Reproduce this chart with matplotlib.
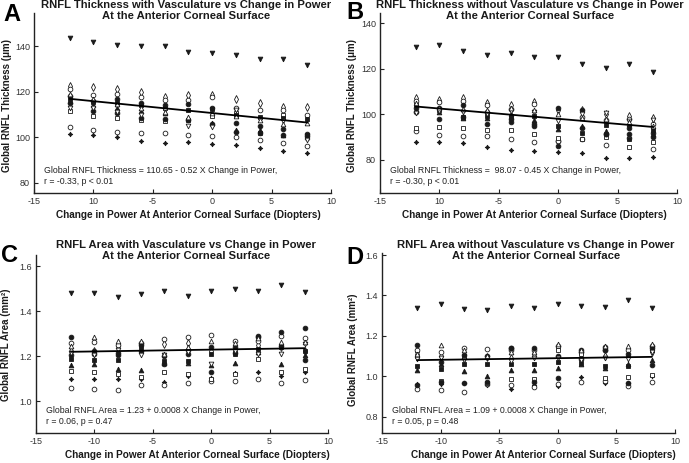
import matplotlib
matplotlib.use("Agg")
import matplotlib.pyplot as plt

plt.rcParams['font.family'] = ['Liberation Sans', 'DejaVu Sans']

power = [-12, -10, -8, -6, -4, -2, 0, 2, 4, 6, 8]

# one marker style per subject: (marker, filled)
markers = [('v', True), ((4, 1, 0), True), ('o', False), ('d', False),
           ('o', False), ('s', False), ('o', True), ('s', True),
           ('^', True), ('o', True), ('v', False), ('^', False)]

thick_vasc = [
    [143.5, 142, 140.5, 140, 140, 137.5, 137, 136, 134.5, 134.5, 131.5],
    [101.5, 101, 100, 98.5, 97.5, 98, 97, 96.5, 95.5, 94, 93],
    [104.5, 103, 102.5, 102, 102, 101, 100.5, 100, 99, 97.5, 96],
    [122.5, 122, 121, 120, 117.5, 118.5, 118.5, 117, 115, 113.5, 113.5],
    [121, 118.5, 119, 117.5, 116.5, 116.5, 117.5, 113, 112, 112, 110],
    [111.5, 109.5, 108.5, 107.5, 107, 107.5, 109.5, 110.5, 102, 110, 101],
    [118, 116, 117, 115, 114, 114.5, 113, 106.5, 105, 103.5, 101.5],
    [117, 115.5, 115, 114, 113, 112, 112.5, 110, 109, 108.5, 108],
    [116, 114, 113, 111.5, 110.5, 108.5, 106.5, 103, 103, 101, 100],
    [115, 111.5, 110.5, 108.5, 108, 107.5, 106, 102.5, 102, 101, 100.5],
    [113, 113, 111, 110, 112, 105, 104.5, 112, 107.5, 107, 99],
    [119, 117, 114.5, 113, 111, 109, 110.5, 109.5, 107.5, 106, 106.5],
]

thick_novasc = [
    [129.5, 130.5, 128, 126, 127, 125, 125, 122, 120.5, 122, 118.5],
    [88, 88, 87.5, 85.5, 84.5, 84, 83.5, 83, 81, 81, 81.5],
    [92.5, 91, 90.5, 90.5, 89, 88, 88.5, 89, 86.5, 89.5, 85],
    [107, 106.5, 107, 105, 104, 105.5, 102, 102, 100, 99.5, 98.5],
    [106, 105.5, 106, 104, 102.5, 104.5, 88.5, 99, 97.5, 98, 96],
    [94, 94.5, 94, 93, 93, 91.5, 89.5, 89, 90, 85.5, 88],
    [103, 98, 99, 96, 96.5, 95, 86, 94, 91.5, 91.5, 90],
    [104, 102, 99, 99.5, 99, 99.5, 95, 92, 95.5, 89, 93],
    [102, 101, 98.5, 98.5, 100, 97.5, 93.5, 95, 92.5, 96, 91.5],
    [101, 103, 104, 101, 98, 96, 103, 102, 91.5, 94, 92],
    [100.5, 101.5, 101, 100, 101.5, 101, 97, 100, 100.5, 97, 97.5],
    [105, 103, 102.5, 102, 103, 102, 100, 98.5, 98, 96.5, 95],
]

area_vasc = [
    [1.48, 1.48, 1.465, 1.475, 1.49, 1.47, 1.49, 1.5, 1.49, 1.515, 1.485],
    [1.10, 1.10, 1.10, 1.10, 1.085, 1.115, 1.105, 1.125, 1.13, 1.115, 1.13],
    [1.06, 1.055, 1.05, 1.075, 1.075, 1.08, 1.09, 1.09, 1.10, 1.08, 1.095],
    [1.225, 1.225, 1.245, 1.225, 1.255, 1.26, 1.225, 1.225, 1.25, 1.24, 1.225],
    [1.26, 1.265, 1.25, 1.26, 1.275, 1.285, 1.295, 1.27, 1.27, 1.29, 1.28],
    [1.135, 1.13, 1.12, 1.11, 1.13, 1.12, 1.10, 1.12, 1.19, 1.13, 1.145],
    [1.285, 1.21, 1.215, 1.25, 1.165, 1.21, 1.13, 1.24, 1.29, 1.31, 1.325],
    [1.19, 1.185, 1.185, 1.24, 1.18, 1.18, 1.21, 1.21, 1.235, 1.24, 1.225],
    [1.16, 1.165, 1.145, 1.14, 1.17, 1.17, 1.16, 1.17, 1.22, 1.165, 1.205],
    [1.205, 1.225, 1.205, 1.225, 1.2, 1.23, 1.24, 1.215, 1.285, 1.245, 1.185],
    [1.215, 1.205, 1.23, 1.205, 1.205, 1.22, 1.165, 1.225, 1.21, 1.21, 1.255],
    [1.245, 1.285, 1.27, 1.27, 1.21, 1.24, 1.27, 1.26, 1.28, 1.265, 1.265],
]

area_novasc = [
    [1.34, 1.36, 1.335, 1.33, 1.35, 1.34, 1.36, 1.35, 1.345, 1.38, 1.34],
    [0.96, 0.96, 0.965, 0.955, 0.94, 0.955, 0.95, 0.995, 0.965, 0.965, 1.0],
    [0.94, 0.935, 0.925, 0.96, 0.955, 0.945, 0.96, 0.97, 0.975, 0.95, 0.97],
    [1.12, 1.10, 1.09, 1.095, 1.09, 1.11, 1.14, 1.11, 1.10, 1.10, 1.12],
    [1.13, 1.12, 1.14, 1.135, 1.13, 1.13, 1.15, 1.12, 1.13, 1.13, 1.14],
    [1.10, 0.975, 1.10, 0.965, 0.985, 0.985, 1.13, 1.11, 0.99, 0.995, 1.005],
    [0.955, 0.97, 0.965, 0.97, 1.14, 0.97, 0.99, 1.13, 1.145, 0.965, 1.055],
    [1.05, 1.035, 1.06, 1.06, 1.06, 1.06, 1.07, 1.065, 1.05, 1.05, 1.13],
    [1.03, 1.06, 1.025, 1.0, 1.03, 1.03, 1.04, 1.06, 1.04, 1.06, 1.08],
    [1.155, 1.07, 1.105, 1.10, 1.14, 1.14, 1.10, 1.085, 1.13, 1.11, 1.15],
    [1.085, 1.09, 1.08, 1.09, 1.075, 1.09, 1.09, 1.08, 1.09, 1.085, 1.12],
    [1.11, 1.155, 1.13, 1.10, 1.12, 1.12, 1.16, 1.13, 1.15, 1.15, 1.16],
]

# regression fits (intercept, slope)
fits = [(110.65, -0.52), (98.07, -0.45), (1.23, 0.0008), (1.09, 0.0008)]

titles = ["RNFL Thickness with Vasculature vs Change in Power\nAt the Anterior Corneal Surface",
          "RNFL Thickness without Vasculature vs Change in Power\nAt the Anterior Corneal Surface",
          "RNFL Area with Vasculature vs Change in Power\nAt the Anterior Corneal Surface",
          "RNFL Area without Vasculature vs Change in Power\nAt the Anterior Corneal Surface"]
notes = ["Global RNFL Thickness = 110.65 - 0.52 X Change in Power,\nr = -0.33, p < 0.01",
         "Global RNFL Thickness =  98.07 - 0.45 X Change in Power,\nr = -0.30, p < 0.01",
         "Global RNFL Area = 1.23 + 0.0008 X Change in Power,\nr = 0.06, p = 0.47",
         "Global RNFL Area = 1.09 + 0.0008 X Change in Power,\nr = 0.05, p = 0.48"]
ylabels = ["Global RNFL Thickness (\u03bcm)", "Global RNFL Thickness (\u03bcm)",
           "Global RNFL Area (mm\u00b2)", "Global RNFL Area (mm\u00b2)"]
letters = ["A", "B", "C", "D"]
xticks = [-15, -10, -5, 0, 5, 10]
xticklabels_top = ["-15", "10", "-5", "0", "5", "10"]
xticklabels_bot = ["-15", "-10", "-5", "0", "5", "10"]
yticks = [[80, 100, 120, 140], [80, 100, 120, 140], [1.0, 1.2, 1.4, 1.6], [0.8, 1.0, 1.2, 1.4, 1.6]]
yticklabels = [["80", "100", "120", "140"], ["80", "100", "120", "140"],
               ["1.0", "1.2", "1.4", "1.6"], ["0.8", "1.0", "1.2", "1.4", "1.6"]]
ylims = [(75.6, 154.5), (65.5, 144.5), (0.86, 1.65), (0.72, 1.61)]
datasets = [thick_vasc, thick_novasc, area_vasc, area_novasc]

W, H = 689.0, 463.0
# axes boxes in pixels: left, top, right, bottom
boxes = [(34, 13, 331, 193), (380, 13, 677, 193), (36, 255, 328, 433), (382, 253, 675, 433)]
title_pos = [(186, 0), (530, 0), (186, 240), (536, 240)]
letter_pos = [(3, 21), (346, 19), (1, 262), (346, 264)]
ylabel_pos = [(7, 106), (352, 105), (6, 345), (353, 350)]
xlabel_pos = [(188, 215), (534, 215), (197, 455), (543, 455)]

fig = plt.figure(figsize=(6.89, 4.63), dpi=100)
dark = '#1a1a1a'
for i in range(4):
    l, t, r, b = boxes[i]
    ax = fig.add_axes([l / W, 1 - b / H, (r - l) / W, (b - t) / H])
    for subj, (mk, filled) in zip(datasets[i], markers):
        ax.plot(power, subj, linestyle='none', marker=mk,
                markersize=3.8 if mk == 'd' else 3.4,
                markerfacecolor=dark if filled else 'white',
                markeredgecolor=dark, markeredgewidth=0.6, zorder=3)
    a, s = fits[i]
    ax.plot([power[0], power[-1]], [a + s * power[0], a + s * power[-1]],
            color='black', linewidth=1.3, zorder=4)
    ax.set_xlim(-15, 10)
    ax.set_ylim(*ylims[i])
    ax.set_xticks(xticks)
    ax.set_xticklabels(xticklabels_top if i < 2 else xticklabels_bot)
    ax.set_yticks(yticks[i])
    ax.set_yticklabels(yticklabels[i])
    ax.spines['top'].set_visible(False)
    ax.spines['right'].set_visible(False)
    for sp in ['left', 'bottom']:
        ax.spines[sp].set_linewidth(1.0)
        ax.spines[sp].set_color('#222222')
    ax.tick_params(direction='in', length=3, width=0.8, labelsize=6.5,
                   colors='#222222', labelcolor='#333333', pad=3)
    ax.text(0.035, 0.04, notes[i], transform=ax.transAxes, fontsize=6.3,
            color='#222222', va='bottom', ha='left', linespacing=1.25)

    tx, ty = title_pos[i]
    fig.text(tx / W, 1 - ty / H, titles[i], ha='center', va='top',
             fontsize=8.1, fontweight='bold', linespacing=1.15, color='#1a1a1a')
    lx, ly = letter_pos[i]
    fig.text(lx / W, 1 - ly / H, letters[i], ha='left', va='baseline',
             fontsize=17, fontweight='bold', color='black')
    yx, yy = ylabel_pos[i]
    fig.text(yx / W, 1 - yy / H, ylabels[i], ha='center', va='center',
             rotation=90, fontsize=7, fontweight='bold', color='#1a1a1a')
    xx, xy = xlabel_pos[i]
    fig.text(xx / W, 1 - xy / H, "Change in Power At Anterior Corneal Surface (Diopters)",
             ha='center', va='center', fontsize=7.2, fontweight='bold', color='#1a1a1a')

fig.savefig("out.png", dpi=100)
